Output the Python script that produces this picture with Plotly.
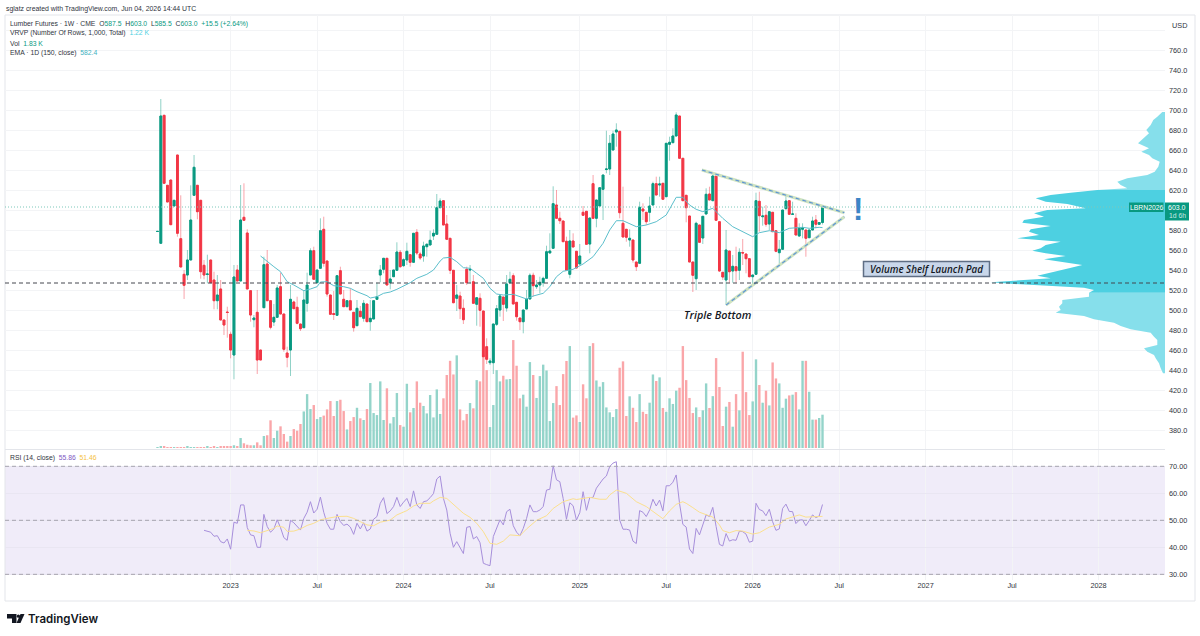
import pandas as pd
import plotly.graph_objects as go

# Weekly lumber futures bars, oldest first
open_prices = [
    578.5, 566.7, 694.7, 624.7, 630, 604, 655, 571.3, 535.7, 535,
    550, 614.7, 624.7, 609.7, 544.7, 535.5, 550, 530, 509.3, 521,
    490, 498, 475.7, 455, 540, 529, 592.7, 577, 519.3, 490.3,
    497.7, 460, 502.3, 546, 509.3, 488, 492.7, 523.3, 496, 457,
    460, 508, 502.7, 486, 482.3, 506.7, 535, 559.3, 527.3, 541.7,
    580.7, 549, 515, 496.5, 494.7, 539.3, 510.7, 503.3, 509.3, 497.7,
    484.3, 498.7, 491.7, 506, 488.3, 491, 510.7, 535, 540.7, 551.7,
    527.3, 533.3, 539.7, 557.7, 544.3, 550, 555.3, 547.7, 577.7, 556,
    554, 563.3, 565, 574, 575.7, 602.3, 609.3, 586, 571.7, 539.7,
    511.7, 514, 501.7, 540.7, 540, 528.3, 505.7, 511.7, 499, 463.3,
    447.3, 447.3, 485.7, 500, 513, 502, 527.3, 534.3, 507.7, 492,
    488.3, 501, 511, 534.7, 523.3, 525, 527.3, 531.7, 557, 561.7,
    605, 591.7, 589, 568.7, 535.7, 569, 558.7, 546, 597.7, 598.7,
    566, 626.3, 591.7, 604, 620.7, 640.5, 641, 660, 678, 678.7,
    586.7, 580.7, 570, 570, 548, 546.7, 601, 597.7, 597.7, 605,
    626.3, 625, 626.7, 613.3, 665.7, 667.3, 674, 694, 651.7, 614.7,
    594, 548, 531.3, 585, 572, 596, 616, 609.3, 634, 588.3,
    537.7, 530, 559, 539, 543.3, 539.7, 557.5, 556, 551.3, 533.3,
    535.7, 608.7, 593.3, 594.7, 586, 597.7, 579.3, 557.3, 560.7, 601.3,
    609.3, 595.7, 591.7, 574, 580.7, 580, 572.3, 580, 590, 585.7,
    587.5,
]
high_prices = [
    579, 711, 694.7, 624.7, 630, 609.7, 655, 614.7, 540, 560,
    624.7, 655, 624.7, 609.7, 550, 555.3, 550, 538.3, 535, 530,
    490, 503.3, 478.3, 545, 545, 625, 626.7, 580.7, 519.3, 495,
    520, 460, 553.3, 560, 509.3, 506, 525, 537.3, 496, 463.3,
    525, 509.3, 513.3, 486, 520, 537.3, 561.7, 563.3, 540, 591.7,
    593.3, 549, 515, 519, 534.3, 543.3, 520, 509.3, 521.7, 497.7,
    510, 504, 510, 506, 510, 509.3, 527.3, 545, 551.7, 551.7,
    540, 540, 567.7, 560, 551.7, 567.3, 555.3, 576.7, 581, 558.3,
    568.3, 566.7, 579.3, 580.7, 616, 611.7, 610, 595, 571.7, 539.7,
    525, 518.3, 510.7, 543.3, 545, 535, 512.3, 516.7, 499, 471.7,
    451.7, 486, 505, 515.3, 513, 535, 538.3, 536.7, 507.7, 492,
    500, 520, 536.7, 537.3, 530, 533.3, 533.3, 564.3, 576.7, 623.7,
    620, 598.3, 589, 573.3, 580, 576.7, 558.7, 566, 604, 598.7,
    592, 635, 610, 622.3, 635, 679.3, 675, 679.3, 686.7, 678.7,
    623.3, 580.7, 580.7, 570, 548, 608.3, 606.7, 597.7, 613.3, 628.3,
    633.3, 633.3, 626.7, 666.7, 673.3, 681.7, 697.7, 694, 651.7, 614.7,
    594, 548, 588.3, 585, 593.7, 621.7, 623.3, 635, 636.7, 588.3,
    537.7, 580, 559, 555, 563.3, 561.7, 571, 556, 551.3, 535,
    617.3, 618.3, 603.3, 605, 598.3, 597.7, 579.3, 570, 600, 615,
    609.3, 608.3, 596.7, 586.7, 586.7, 580, 580, 593.3, 595, 587.5,
    603,
]
low_prices = [
    578, 566.7, 626.7, 608, 585.3, 604, 573.3, 543, 511, 530,
    550, 614.7, 590.7, 531.3, 530.7, 526.7, 527.3, 500.7, 500.7, 490,
    475, 472.3, 451.7, 430.7, 529, 529, 589.7, 521, 488.3, 482.7,
    436, 450, 502.3, 509.3, 480.7, 484, 492.7, 496, 458.3, 442.7,
    434, 501.3, 485.7, 479, 482.3, 498.3, 535, 530.7, 527.3, 541.7,
    543.3, 513.3, 495.7, 490, 494.7, 516, 503.3, 503.3, 500, 478.3,
    484.3, 493.3, 488.3, 488.3, 479.3, 491, 510.7, 527.7, 536.7, 525,
    520.7, 533.3, 539.7, 542.3, 543.3, 545, 543.3, 547.7, 555, 550,
    548.3, 553.3, 565, 570, 575.7, 602.3, 585, 570, 536, 506.7,
    499, 491, 486, 525, 526.7, 506.7, 484.3, 483.3, 453.3, 446,
    445, 436, 484, 493.3, 489, 498.3, 526.7, 506, 489.3, 480,
    476.7, 501, 511, 513.3, 521, 516.7, 523.3, 531.7, 557, 561.7,
    591.7, 586, 568.3, 539.7, 531.7, 563, 541.7, 546, 594.7, 565.7,
    556.7, 591.7, 582.7, 604, 590, 636.7, 635, 660, 663.3, 591.7,
    573, 568.3, 563.3, 547.3, 539, 546.7, 590, 585, 588.3, 605,
    615, 613.3, 610.7, 613.3, 649.3, 667.3, 674, 651.7, 609.3, 587.7,
    548, 518, 520, 567.7, 566, 596, 610, 609.3, 589.7, 538.3,
    530, 505, 527.3, 527.3, 527.3, 530, 545, 536.7, 532.7, 525,
    535.7, 578.3, 584.3, 583.3, 580, 578.3, 557.7, 545.7, 560.7, 600.7,
    595.7, 595.7, 575, 573.3, 571.7, 553.3, 572.3, 580, 581.7, 585,
    585.5,
]
close_prices = [
    578.6, 694, 626.7, 608, 585.3, 609.7, 576.7, 543, 524.7, 550,
    590, 642.7, 598.3, 538.3, 535, 536, 527.3, 509.3, 515, 490,
    485, 497.5, 460, 533, 529, 590, 589.7, 521, 495, 492,
    450, 450, 545.3, 509.3, 482.7, 492.7, 522, 496, 460.7, 452.7,
    510.7, 501.3, 486.7, 481.3, 510, 525, 559.3, 530.7, 540, 579.3,
    546.7, 516, 495.7, 495.5, 534.3, 516, 503.3, 509.3, 500, 482.3,
    501.7, 493.3, 506.7, 488.3, 491.7, 509.3, 513.3, 540, 551.7, 525,
    531, 540, 558, 543.3, 550.3, 558.7, 547.7, 576.7, 557, 552,
    564, 565.7, 569.7, 576.7, 602.3, 609, 585, 570.7, 539.7, 507.3,
    515, 501.3, 490.3, 527.3, 540.7, 506.7, 512.3, 499.7, 453.3, 450.7,
    449, 486, 501.3, 514, 505.7, 526, 530.7, 506, 493.3, 488.3,
    500, 510.7, 534.7, 524.3, 525, 527.7, 531.7, 558.3, 559, 606.3,
    591.7, 589.3, 568.3, 539.7, 569, 563, 542, 554, 594.7, 565.7,
    592, 591.7, 610, 622.3, 635, 641, 666.7, 676, 680, 597.3,
    573, 572.7, 571.7, 550, 543.3, 602.7, 599, 588.3, 604, 626.3,
    615, 626, 610.7, 666.7, 667.7, 674, 695, 651.7, 609.3, 602.3,
    548, 534.7, 586.7, 567.7, 593.7, 615.7, 610, 634, 589.7, 539,
    533, 560, 538.3, 543.7, 539.3, 557.7, 557, 551.3, 533.3, 535,
    609.3, 594.3, 594, 585.7, 598.3, 578.3, 558.7, 560.7, 600, 609,
    595.7, 596, 575, 581.7, 582, 571.7, 580, 589, 585.7, 587.5,
    603,
]

# Weekly volume, in thousands of contracts
volume_k = [
    0.04, 0.09, 0.09, 0.05, 0.05, 0.05, 0.05, 0.05, 0.05, 0.09,
    0.05, 0.05, 0.05, 0.05, 0.05, 0.09, 0.05, 0.11, 0.05, 0.09,
    0.09, 0.09, 0.11, 0.15, 0.11, 0.55, 0.26, 0.18, 0.15, 0.15,
    0.31, 0.15, 0.66, 0.70, 1.52, 0.55, 0.95, 1.19, 0.77, 0.35,
    0.66, 1.04, 0.95, 1.32, 2.01, 2.96, 2.14, 2.36, 1.59, 1.70,
    1.78, 2.12, 2.58, 1.76, 2.58, 2.65, 2.03, 1.02, 1.48, 1.70,
    2.21, 1.63, 1.54, 2.14, 3.57, 1.92, 1.81, 3.66, 1.54, 3.28,
    1.35, 1.70, 3.02, 1.26, 1.17, 3.53, 1.96, 2.20, 3.66, 2.49,
    2.31, 1.90, 2.91, 1.68, 3.22, 1.87, 2.73, 4.01, 4.79, 4.04,
    5.09, 2.12, 1.52, 1.87, 2.47, 2.18, 3.73, 3.66, 5.05, 4.28,
    1.15, 2.36, 4.28, 3.66, 3.97, 3.77, 3.79, 5.93, 4.52, 2.73,
    2.93, 2.27, 4.72, 4.01, 2.75, 3.95, 4.58, 4.26, 1.48, 2.47,
    3.40, 2.36, 4.06, 4.78, 5.60, 1.67, 1.79, 1.43, 3.50, 2.73,
    5.60, 5.76, 3.71, 3.37, 3.62, 2.23, 1.96, 1.70, 2.14, 4.41,
    4.76, 1.76, 2.84, 2.21, 1.43, 2.96, 1.99, 1.87, 2.49, 4.04,
    3.68, 3.88, 2.20, 1.99, 2.73, 2.42, 3.15, 3.31, 5.60, 3.73,
    2.75, 1.92, 2.23, 1.70, 2.07, 3.55, 2.20, 2.85, 4.94, 3.35,
    1.21, 2.27, 2.53, 1.17, 2.96, 2.07, 5.29, 3.07, 1.81, 2.56,
    4.87, 3.46, 2.49, 3.15, 2.34, 4.70, 3.82, 3.55, 2.21, 2.71,
    2.89, 2.93, 3.07, 2.12, 4.79, 4.79, 3.09, 1.56, 1.56, 1.65,
    1.83,
]

# 150-period daily EMA, sampled at the weekly bar numbers listed beside it
ema_bars = [
    31, 33, 35, 37, 39, 41, 43, 44, 46, 48, 49, 51, 53, 56, 58, 60, 63, 64, 66, 68,
    70, 72, 76, 78, 81, 83, 85, 86, 88, 90, 92, 94, 96, 98, 100, 102, 104, 107, 111,
    113, 116, 118, 120, 122, 125, 128, 131, 134, 136, 138, 140, 142, 144, 147, 150,
    153, 155, 156, 158, 160, 162, 164, 167, 170, 173, 176, 179, 181, 184, 187, 190,
    194, 196, 199, 200,
]
ema_values = [
    554, 548.3, 543.3, 538.3, 528.3, 525, 520.7, 519.3, 521, 523.3, 528, 528.3, 524.3,
    523.3, 521.7, 518.3, 514.3, 512, 513.3, 516.7, 518, 520.7, 527.3, 531.7, 535.7, 540,
    549, 552, 552.7, 548.3, 542.3, 541.7, 536.7, 531.7, 521.7, 516, 515, 515.7, 511, 514,
    516.7, 523.3, 533.3, 538.7, 540.7, 546, 553.3, 566.7, 580, 589.3, 589.3, 586.7, 583.3,
    585, 588.3, 595, 606.7, 612.7, 612.7, 605, 600.7, 598.3, 601.7, 591.7, 583.3, 578.3,
    573.3, 577.3, 579.3, 577.3, 581.7, 582.7, 581.7, 582.7, 582.4,
]

# RSI(14) starts once fourteen bars have closed
rsi_start_bar = 14
rsi_values = [
    46.3, 46.05, 45.6, 44.1, 44.3, 42.1, 41.6, 43.1, 39.3, 49.3, 48.9, 55.7, 55.7, 47.3,
    44.6, 44.3, 40.0, 40.0, 52.2, 47.7, 45.6, 46.8, 50.2, 47.3, 43.6, 42.6, 50.0, 49.1,
    47.7, 46.4, 50.7, 53.0, 56.9, 52.7, 54.1, 58.6, 53.0, 48.9, 46.7, 46.7, 52.2, 49.5,
    48.1, 48.6, 47.5, 44.8, 48.9, 46.8, 49.1, 46.0, 46.8, 50.4, 51.4, 56.3, 58.4, 52.5,
    53.5, 55.1, 58.5, 55.1, 56.7, 58.1, 55.1, 60.9, 55.7, 54.4, 56.9, 57.2, 58.4, 59.9,
    65.3, 66.4, 58.1, 53.8, 45.2, 40.0, 42.1, 39.9, 37.7, 47.4, 47.7, 43.1, 44.0, 41.7,
    34.1, 33.6, 33.2, 44.0, 47.3, 50.2, 48.3, 53.2, 54.1, 48.0, 45.6, 44.3, 47.0, 50.7,
    55.7, 53.2, 53.2, 53.8, 55.1, 61.2, 61.5, 70.2, 65.0, 64.3, 58.1, 50.4, 56.5, 55.4,
    50.1, 52.8, 60.6, 53.7, 58.4, 58.5, 61.9, 63.7, 65.3, 66.4, 69.9, 71.2, 71.7, 50.1,
    46.7, 46.7, 46.4, 42.3, 41.4, 53.6, 53.0, 51.4, 53.8, 57.8, 55.3, 57.5, 53.5, 62.8,
    62.8, 64.1, 66.8, 56.3, 48.5, 47.5, 39.4, 37.7, 47.0, 44.6, 48.3, 52.0, 51.4, 54.8,
    47.7, 41.1, 40.5, 45.1, 42.3, 42.8, 42.6, 46.0, 45.8, 44.9, 41.9, 42.3, 56.3, 54.0,
    53.5, 51.7, 54.1, 49.5, 46.3, 46.8, 54.4, 56.0, 53.3, 53.2, 48.8, 50.1, 50.2, 48.0,
    49.9, 52.0, 51.0, 51.6, 55.86,
]

# Moving average of the RSI, at the weekly bar numbers beside it
rsi_ma_bars = [
    27, 29, 31, 33, 35, 36, 38, 39, 41, 43, 45, 47, 49, 51, 54, 57, 59, 61, 63, 65, 67,
    70, 72, 75, 77, 79, 82, 83, 85, 87, 89, 92, 94, 96, 98, 100, 102, 104, 106, 109, 111,
    114, 117, 119, 122, 125, 126, 130, 133, 135, 136, 138, 141, 144, 147, 150, 152, 154,
    156, 158, 159, 161, 163, 167, 169, 170, 172, 174, 176, 179, 181, 184, 187, 189, 193,
    195, 200,
]
rsi_ma_values = [
    46.3, 46.05, 45.4, 46.3, 47.0, 47.9, 47.4, 45.9, 46, 46.8, 48.1, 48.9, 50.2, 50.7,
    51.4, 51.5, 50.7, 49.5, 48.3, 48.0, 49.3, 50.1, 52, 53.6, 55.3, 56.3, 56.3, 57.2,
    58.5, 58.1, 56.0, 52.6, 51.1, 48.9, 45.8, 41.5, 41.1, 42.3, 44.6, 44.3, 46.8, 50,
    51.7, 54.4, 56.9, 58, 57.7, 58.5, 57.8, 57.8, 59.4, 61.2, 60, 56.9, 55.1, 52.6, 50.6,
    53.5, 55.9, 56.9, 56.3, 54.7, 53, 51.2, 48.3, 46.2, 45.4, 46.2, 46, 44.9, 45.4, 47.5,
    48.5, 50.5, 52, 51.2, 51.46,
]

# Visible-range volume profile: row price and traded volume for that row
profile_prices = [
    698, 693.3, 690, 685, 680, 676.7, 671.7, 666.7, 661.7, 658.3, 655, 651.7, 648.3, 643.3,
    638.3, 635, 631.7, 628.3, 625, 621.7, 620, 617.3, 615, 611.7, 608.3, 606, 603.3, 601.7,
    600, 596.7, 593.3, 590, 587.3, 584, 580.7, 578.3, 575, 571.7, 568.3, 565, 561.7, 559.3,
    556.7, 554, 550.7, 547.7, 545, 541.7, 538.3, 534.3, 531.7, 529.3, 527.7, 526, 524, 522.3,
    520, 517.3, 513.3, 510, 506.7, 503.3, 500, 497.3, 494, 490.7, 487.3, 484, 480.7, 477.3,
    473.3, 470, 465, 461.7, 458.3, 455, 451.7, 446.7, 441.7, 436.7,
]
profile_volume = [
    2.7, 7.7, 11.7, 14.3, 18.7, 16, 21, 27, 16, 23.7, 16, 12.7, 5.3, 6.7,
    10.3, 17.7, 37.7, 47.7, 44.3, 37.7, 67.7, 94.3, 114.3, 129.3, 119.3, 97.7, 87.7, 79.3,
    117.7, 131, 121, 141, 142.7, 114.3, 134.3, 136, 126, 147.7, 104.3, 119.3, 124.3, 132.7,
    119.3, 99.3, 121, 101, 82.7, 96, 109.3, 127.7, 114.3, 154.3, 174.3, 151, 114.3, 81,
    71, 76, 76, 102.7, 102.7, 106, 104.3, 109.3, 81, 71, 51, 44.3, 34.3, 14.3,
    11, 7.7, 7.7, 21, 17.7, 11, 9.3, 6, 4.3, 2,
]
value_area_high = 620
value_area_low = 517.3

price_ticks = [360, 380, 400, 420, 440, 460, 480, 500, 520, 540, 560, 580, 600, 620, 640,
               660, 680, 700, 720, 740, 760, 780, 800]
unlabelled_ticks = {360, 600, 780, 800}
rsi_ticks = [30, 40, 50, 60, 70]
month_ticks = ["2023-01-02", "2023-07-03", "2024-01-01", "2024-07-01", "2025-01-06",
               "2025-07-07", "2026-01-05", "2026-07-06", "2027-01-04", "2027-07-05", "2028-01-03"]
month_labels = ["2023", "Jul", "2024", "Jul", "2025", "Jul", "2026", "Jul", "2027", "Jul", "2028"]

upper_trend_dates = ["2025-09-20", "2026-07-17"]
upper_trend_prices = [640, 597.3]
lower_trend_dates = ["2025-11-10", "2026-07-17"]
lower_trend_prices = [505, 593.3]

last_price = 603.0
shelf_price = 527.0

UP = "#089981"
DOWN = "#F23645"
UP_WICK = "rgba(8,153,129,0.45)"
DOWN_WICK = "rgba(242,54,69,0.45)"
UP_VOL = "#94D4CA"
DOWN_VOL = "#FAA6A9"
GRID = "#F3F4F6"
FRAME = "#E3E5EA"
TEXT = "#30343E"
FONT = "Liberation Sans"

weeks = pd.date_range("2022-08-01", periods=len(close_prices), freq="7D")

# Canvas geometry
WIDTH, HEIGHT = 1200, 636
LEFT, RIGHT, TOP, BOTTOM = 5, 1165, 15, 601


def fx(x):
    return (x - LEFT) / (RIGHT - LEFT)


def fy(y):
    return (BOTTOM - y) / (BOTTOM - TOP)


fig = go.Figure()

# Volume sits beneath the price series, on the base axis of the upper pane
fig.add_trace(go.Bar(
    x=weeks, y=volume_k, xaxis="x", yaxis="y",
    width=0.72 * 7 * 86400000,
    marker=dict(color=[UP_VOL if c >= o else DOWN_VOL for o, c in zip(open_prices, close_prices)], line_width=0),
    hoverinfo="skip",
))


# Volume profile, filled out from the right edge; value area in the stronger tone
def profile_band(lo, hi, color):
    rows = [(p, v) for p, v in zip(profile_prices, profile_volume) if lo <= p <= hi]
    fig.add_trace(go.Scatter(
        x=[0] + [v for _, v in rows] + [0],
        y=[rows[0][0]] + [p for p, _ in rows] + [rows[-1][0]],
        mode="lines", fill="toself", fillcolor=color, line=dict(width=0),
        xaxis="x2", yaxis="y3", hoverinfo="skip",
    ))


profile_band(value_area_high, 800, "#86DFEB")
profile_band(0, value_area_low, "#86DFEB")
profile_band(value_area_low, value_area_high, "#4DD0E1")

# Wicks first in a paler tone, then solid bodies on top
fig.add_trace(go.Candlestick(
    x=weeks, open=open_prices, high=high_prices, low=low_prices, close=close_prices,
    xaxis="x", yaxis="y3",
    increasing=dict(line=dict(color=UP_WICK, width=1), fillcolor="rgba(0,0,0,0)"),
    decreasing=dict(line=dict(color=DOWN_WICK, width=1), fillcolor="rgba(0,0,0,0)"),
    hoverinfo="skip",
))
fig.add_trace(go.Candlestick(
    x=weeks, open=open_prices, close=close_prices,
    high=[max(o, c) for o, c in zip(open_prices, close_prices)],
    low=[min(o, c) for o, c in zip(open_prices, close_prices)],
    xaxis="x", yaxis="y3",
    increasing=dict(line=dict(color=UP, width=1), fillcolor=UP),
    decreasing=dict(line=dict(color=DOWN, width=1), fillcolor=DOWN),
    hoverinfo="skip",
))

fig.add_trace(go.Scatter(
    x=[weeks[i] for i in ema_bars], y=ema_values, mode="lines",
    xaxis="x", yaxis="y3", line=dict(color="#5CBFCC", width=1), hoverinfo="skip",
))

# Converging trendlines: pale green stroke with a blue dashed core
for dates, prices in ((upper_trend_dates, upper_trend_prices), (lower_trend_dates, lower_trend_prices)):
    fig.add_trace(go.Scatter(
        x=dates, y=prices, mode="lines", xaxis="x", yaxis="y3",
        line=dict(color="#CFE3C0", width=3), hoverinfo="skip",
    ))
    fig.add_trace(go.Scatter(
        x=dates, y=prices, mode="lines", xaxis="x", yaxis="y3",
        line=dict(color="#5E94D6", width=1.2, dash="4px,3px"), hoverinfo="skip",
    ))

# Lower pane
fig.add_trace(go.Scatter(
    x=weeks[rsi_start_bar:], y=rsi_values, mode="lines", xaxis="x", yaxis="y2",
    line=dict(color="#A78FDB", width=1), hoverinfo="skip",
))
fig.add_trace(go.Scatter(
    x=[weeks[i] for i in rsi_ma_bars], y=rsi_ma_values, mode="lines", xaxis="x", yaxis="y2",
    line=dict(color="#FBE08E", width=1), hoverinfo="skip",
))

shapes = [
    dict(type="rect", xref="paper", yref="y2", x0=0, x1=1, y0=30, y1=70, layer="below",
         line_width=0, fillcolor="#F0ECF9"),
    dict(type="line", xref="paper", yref="paper", x0=0, x1=1, y0=fy(449.5), y1=fy(449.5),
         line=dict(color=FRAME, width=1)),
    dict(type="rect", xref="paper", yref="paper", x0=fx(5), x1=fx(1195), y0=fy(601), y1=fy(15),
         line=dict(color=FRAME, width=1), layer="below"),
    dict(type="line", xref="paper", yref="y3", x0=0, x1=1, y0=last_price, y1=last_price,
         line=dict(color="#7CC8BA", width=1, dash="1px,2px")),
    dict(type="line", xref="paper", yref="y3", x0=0, x1=1, y0=shelf_price, y1=shelf_price,
         line=dict(color="#44474F", width=1, dash="4px,3px")),
    # Price tags on the right
    dict(type="rect", xref="paper", yref="paper", x0=fx(1129), x1=fx(1163.5), y0=fy(212), y1=fy(202.5),
         fillcolor=UP, line_width=0),
    dict(type="rect", xref="paper", yref="paper", x0=fx(1165), x1=fx(1189), y0=fy(220.5), y1=fy(202.5),
         fillcolor=UP, line_width=0),
    # Text box behind the shelf label
    dict(type="rect", xref="paper", yref="paper", x0=fx(863.5), x1=fx(989.5), y0=fy(276.5), y1=fy(261.5),
         fillcolor="#C9D7EA", line=dict(color="#5F6E84", width=1.5)),
    # Wordmark glyph
    dict(type="path", xref="paper", yref="paper", fillcolor="#131722", line_width=0,
         path=" ".join(f"{c}{fx(x):.5f},{fy(y):.5f}" for c, x, y in (
             ("M", 7, 614), ("L", 16.5, 614), ("L", 16.5, 623), ("L", 12, 623), ("L", 12, 618.5), ("L", 7, 618.5)
         )) + " Z"),
    dict(type="circle", xref="paper", yref="paper", fillcolor="#131722", line_width=0,
         x0=fx(16.8), x1=fx(20), y0=fy(617.8), y1=fy(614.6)),
    dict(type="path", xref="paper", yref="paper", fillcolor="#131722", line_width=0,
         path=" ".join(f"{c}{fx(x):.5f},{fy(y):.5f}" for c, x, y in (
             ("M", 20.5, 614), ("L", 24.5, 614), ("L", 20.5, 623), ("L", 16.5, 623)
         )) + " Z"),
]


def label(x, y, text, size=6.8, color=TEXT, anchor="left", **font):
    return dict(xref="paper", yref="paper", x=fx(x), y=fy(y), text=text, showarrow=False,
                xanchor=anchor, yanchor="middle", align=anchor, borderpad=0, borderwidth=0,
                font=dict(family=font.pop("family", FONT), size=size, color=color, **font))


def tint(text, color):
    return f'<span style="color:{color}">{text}</span>'


annotations = [
    label(6, 8.5, "sglatz created with TradingView.com, Jun 04, 2026 14:44 UTC", size=6.9),
    label(10, 24, "Lumber Futures · 1W · CME  " + "O" + tint("587.5", UP) + "  H" + tint("603.0", UP)
          + "  L" + tint("585.5", UP) + "  C" + tint("603.0", UP) + "  " + tint("+15.5 (+2.64%)", UP)),
    label(10, 33.5, "VRVP (Number Of Rows, 1,000, Total)  " + tint("1.22 K", "#4DD0E1")),
    label(10, 43, "Vol  " + tint("1.83 K", UP)),
    label(10, 53, "EMA · 1D (150, close)  " + tint("582.4", "#3FB1C0")),
    label(10, 457.5, "RSI (14, close)  " + tint("55.86", "#7E57C2") + "  " + tint("51.46", "#F5C242")),
    label(1172, 25, "USD", size=7.3),
    label(1146.2, 207.3, "LBRN2026", size=6.8, color="#FFFFFF", anchor="center"),
    label(1177, 207.3, "603.0", size=7, color="#FFFFFF", anchor="center"),
    label(1177, 215.8, "1d 6h", size=6.8, color="#CBE9E3", anchor="center"),
    label(718, 314.5, "Triple Bottom", size=10.8, color="#14171F", anchor="center",
          family="Open Sans", style="italic", weight=600),
    label(926.5, 269, "Volume Shelf Launch Pad", size=9.8, color="#14171F", anchor="center",
          family="Open Sans", style="italic", weight=600),
    label(858, 210, "!", size=31, color="#3D85C6", anchor="center", weight="bold"),
    label(28, 619, "TradingView", size=11.5, color="#131722", family="Inter", weight=600),
]

fig.update_layout(
    width=WIDTH, height=HEIGHT,
    margin=dict(l=LEFT, r=WIDTH - RIGHT, t=TOP, b=HEIGHT - BOTTOM, autoexpand=False),
    paper_bgcolor="#FFFFFF", plot_bgcolor="#FFFFFF",
    showlegend=False, dragmode=False, hovermode=False,
    boxgap=0.2, boxmode="overlay", barmode="overlay",
    shapes=shapes, annotations=annotations,
    font=dict(family=FONT, size=7.3, color=TEXT),
    xaxis=dict(
        range=["2021-09-14", "2028-05-22"], anchor="y2", type="date",
        tickmode="array", tickvals=month_ticks, ticktext=month_labels, ticks="",
        showgrid=True, gridcolor=GRID, gridwidth=1, zeroline=False, showline=False,
        rangeslider=dict(visible=False), tickfont=dict(size=7.3, color=TEXT), tickangle=0,
    ),
    xaxis2=dict(range=[RIGHT - LEFT, 0], overlaying="x", anchor="y3", visible=False),
    # Volume scale: zero rests just above the pane floor, hidden from view
    yaxis=dict(domain=[fy(449), 1], range=[-0.055, 23.79], visible=False),
    # Price scale
    yaxis3=dict(
        domain=[fy(449), 1], range=[361, 795], overlaying="y", anchor="x", side="right",
        tickmode="array", tickvals=price_ticks,
        ticktext=["" if v in unlabelled_ticks else f"{v:.1f}" for v in price_ticks],
        showgrid=True, gridcolor=GRID, zeroline=False, showline=False, ticks="",
        tickfont=dict(size=7.3, color=TEXT), ticklabelstandoff=3,
    ),
    # RSI scale
    yaxis2=dict(
        domain=[fy(580), fy(450)], range=[27.9, 76.04], anchor="x", side="right",
        tickmode="array", tickvals=rsi_ticks, ticktext=[f"{v:.2f}" for v in rsi_ticks],
        showgrid=True, gridcolor="#E9E6F2", zeroline=False, showline=False, ticks="",
        tickfont=dict(size=7.3, color=TEXT), ticklabelstandoff=3,
    ),
)

# Reference levels in the RSI pane
for level in (30, 50, 70):
    fig.add_shape(type="line", xref="paper", yref="y2", x0=0, x1=1, y0=level, y1=level,
                  line=dict(color="#A6A4AE", width=1, dash="4px,3px"))

fig.write_html("out.html", config=dict(displayModeBar=False))
